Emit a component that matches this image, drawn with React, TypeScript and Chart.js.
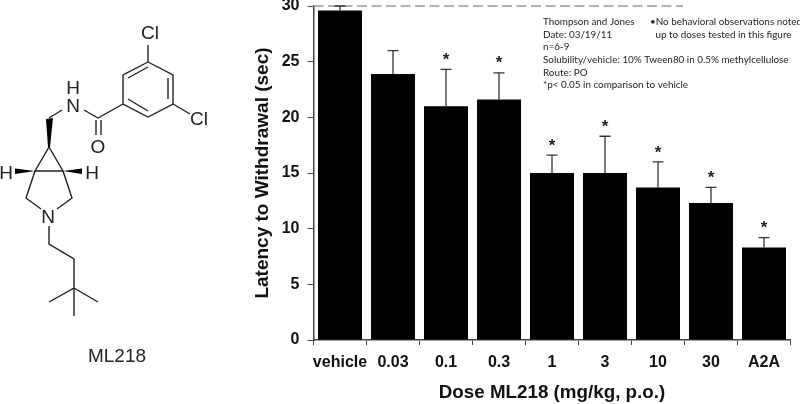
import React, { useEffect, useRef } from "react";
import { Chart, registerables } from "chart.js";

Chart.register(...registerables);

const categories = ["vehicle", "0.03", "0.1", "0.3", "1", "3", "10", "30", "A2A"];
const latency = [29.6, 23.9, 21, 21.6, 15, 15, 13.7, 12.3, 8.3];
const errorTop = [30, 26, 24.3, 24, 16.6, 18.3, 16, 13.7, 9.2];
const significant = [false, false, true, true, true, true, true, true, true];
const noteLines = [
  "Thompson and Jones",
  "Date: 03/19/11",
  "n=6-9",
  "Solubility/vehicle: 10% Tween80 in 0.5% methylcellulose",
  "Route: PO",
  "*p< 0.05 in comparison to vehicle",
];
const sideNotes = ["•No behavioral observations noted", " up to doses tested in this figure"];
const cutoff = 30;

const overlay = {
  id: "overlay",
  afterDatasetsDraw(chart: any) {
    const { ctx, scales } = chart;
    const x = scales.x;
    const y = scales.y;
    ctx.save();
    ctx.strokeStyle = "#999";
    ctx.lineWidth = 1.5;
    ctx.setLineDash([10, 4.5]);
    ctx.beginPath();
    ctx.moveTo(x.left, y.getPixelForValue(cutoff));
    ctx.lineTo(683, y.getPixelForValue(cutoff));
    ctx.stroke();
    ctx.setLineDash([]);
    ctx.strokeStyle = "#333";
    ctx.lineWidth = 1.3;
    categories.forEach((_, i) => {
      const px = x.getPixelForValue(i);
      const top = y.getPixelForValue(errorTop[i]);
      const base = y.getPixelForValue(latency[i]);
      ctx.beginPath();
      ctx.moveTo(px, base);
      ctx.lineTo(px, top);
      ctx.moveTo(px - 5.5, top);
      ctx.lineTo(px + 5.5, top);
      ctx.stroke();
      if (significant[i]) {
        ctx.fillStyle = "#222";
        ctx.font = "bold 17px 'Liberation Sans'";
        ctx.textAlign = "center";
        ctx.textBaseline = "middle";
        ctx.fillText("*", px, top - 9);
      }
    });
    ctx.fillStyle = "#222";
    ctx.font = "9.9px Lato";
    ctx.textAlign = "left";
    ctx.textBaseline = "middle";
    noteLines.forEach((t, i) => ctx.fillText(t, 543, 21.7 + i * 12.7));
    sideNotes.forEach((t, i) => ctx.fillText(t, i === 0 ? 650 : 653, 21.7 + i * 12.7));
    ctx.restore();
  },
};

function Molecule() {
  const bonds = [
    "148,62 173,75 173,104 148,117 123,104 123,75 148,62",
    "148,62 148,45",
    "173,104 190,114",
    "128,78 148,67",
    "168,78 168,99",
    "128,99 148,111",
    "123,104 98,118 84,110",
    "62,110 49,118",
    "96,120 96,135",
    "101,120 101,135",
    "49,147 35,171 63,171 49,147",
    "35,171 26,198 41,209",
    "63,171 72,198 57,209",
    "49,226 49,244 74,259 74,288 49,302",
    "74,288 98,302",
    "74,288 74,316",
  ];
  const labels: [string, number, number][] = [
    ["Cl", 150, 32],
    ["Cl", 199, 118],
    ["H", 73, 87],
    ["N", 73, 105],
    ["O", 98, 146],
    ["H", 6, 172],
    ["H", 92, 172],
    ["N", 48, 216],
  ];
  return (
    <svg width={250} height={404} style={{ position: "absolute", left: 0, top: 0 }}>
      {bonds.map((p, i) => (
        <polyline key={i} points={p} fill="none" stroke="#222" strokeWidth={1.4} />
      ))}
      <polygon points="46,119 53,118 50,147 48,147" fill="#000" />
      <polygon points="35,171 15,168.5 15,174" fill="#000" />
      <polygon points="63,171 82,168.5 82,174" fill="#000" />
      {labels.map(([t, x, y], i) => (
        <text key={i} x={x} y={y} fontFamily="Liberation Sans" fontSize={19} fill="#222" textAnchor="middle" dominantBaseline="central">
          {t}
        </text>
      ))}
      <text x={117} y={355} fontFamily="Liberation Sans" fontSize={19} fill="#222" textAnchor="middle" dominantBaseline="central">
        ML218
      </text>
    </svg>
  );
}

export default function App() {
  const ref = useRef<HTMLCanvasElement>(null);
  useEffect(() => {
    const chart = new Chart(ref.current!, {
      type: "bar",
      data: {
        labels: categories,
        datasets: [{ data: latency, backgroundColor: "#000", barPercentage: 0.83, categoryPercentage: 1 }],
      },
      plugins: [overlay],
      options: {
        animation: false,
        responsive: false,
        devicePixelRatio: 1,
        layout: { padding: { left: 251, right: 9.5, top: 6, bottom: 0 } },
        plugins: { legend: { display: false }, tooltip: { enabled: false } },
        scales: {
          x: {
            grid: { drawOnChartArea: false, tickLength: 5, color: "#444" },
            border: { color: "#444", width: 1.5 },
            ticks: { color: "#111", padding: 8, maxRotation: 0, autoSkip: false, font: { family: "Liberation Sans", weight: "bold", size: 16 } },
            title: { display: true, text: "Dose ML218 (mg/kg, p.o.)", color: "#111", padding: { top: 9, bottom: 0 }, font: { family: "Liberation Sans", weight: "bold", size: 18.8 } },
            afterFit: (s: any) => { s.height = 64; },
          },
          y: {
            min: 0,
            max: 30,
            grid: { drawOnChartArea: false, tickLength: 6, color: "#444" },
            border: { color: "#444", width: 1.5 },
            ticks: { stepSize: 5, color: "#111", padding: 8, font: { family: "Liberation Sans", weight: "bold", size: 16 } },
            title: { display: true, text: "Latency to Withdrawal (sec)", color: "#111", padding: 0, font: { family: "Liberation Sans", weight: "bold", size: 19 } },
            afterFit: (s: any) => { s.width = 62.5; s.paddingTop = 0; },
          },
        },
      },
    } as any);
    return () => chart.destroy();
  }, []);
  return (
    <div style={{ position: "absolute", left: 0, top: 0, width: 800, height: 404, background: "#fff", overflow: "hidden" }}>
      <canvas ref={ref} width={800} height={404} style={{ display: "block" }} />
      <Molecule />
    </div>
  );
}
